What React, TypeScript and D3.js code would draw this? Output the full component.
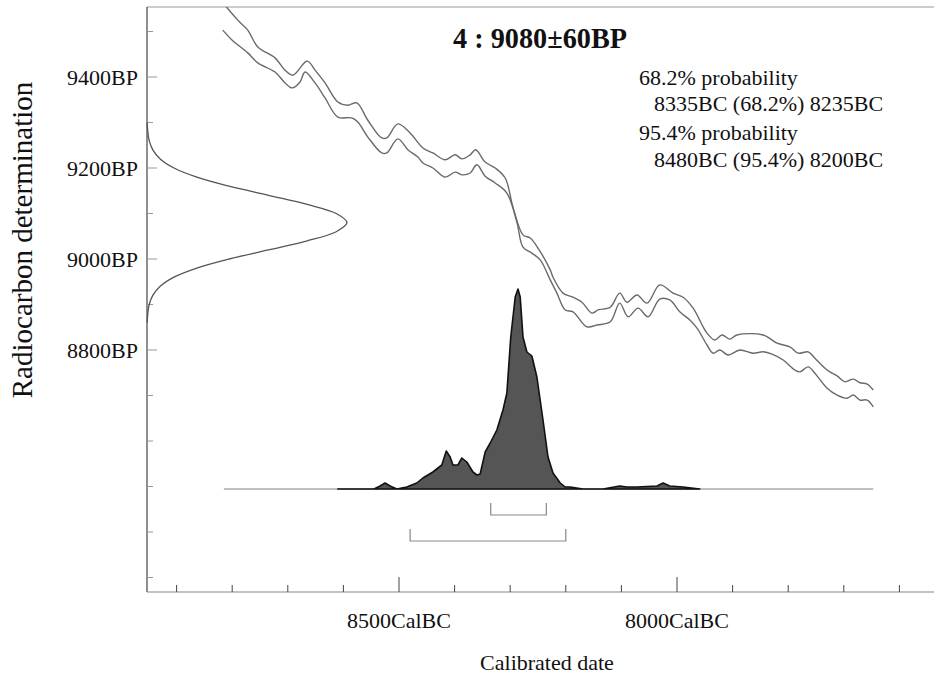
import React, { useEffect, useRef } from 'react';
import * as d3 from 'd3';

const TITLE = '4 : 9080±60BP';
const INFO_LINES = ['68.2% probability', '8335BC (68.2%) 8235BC', '95.4% probability', '8480BC (95.4%) 8200BC'];

// calibration curve edges, [cal BC, BP]
const curveUpper: [number, number][] = [
  [8818, 9565], [8790, 9525], [8772, 9503], [8754, 9466], [8723, 9442], [8705, 9415], [8691, 9404],
  [8665, 9435], [8651, 9415], [8633, 9387], [8610, 9345], [8592, 9338], [8576, 9343], [8556, 9305],
  [8531, 9266], [8522, 9266], [8502, 9297], [8480, 9277], [8457, 9244], [8439, 9233], [8417, 9218],
  [8399, 9229], [8387, 9220], [8372, 9229], [8362, 9240], [8345, 9213], [8327, 9200], [8309, 9178],
  [8295, 9114], [8277, 9053], [8264, 9046], [8250, 9024], [8228, 8976], [8223, 8960], [8205, 8925],
  [8187, 8916], [8171, 8905], [8153, 8881], [8142, 8888], [8120, 8894], [8103, 8925], [8090, 8905],
  [8072, 8921], [8054, 8903], [8031, 8943], [8007, 8925], [7989, 8916], [7971, 8892], [7953, 8851],
  [7946, 8837], [7932, 8822], [7919, 8833], [7905, 8824], [7892, 8833], [7845, 8833], [7820, 8815],
  [7797, 8807], [7782, 8793], [7764, 8796], [7752, 8782], [7730, 8756], [7712, 8743], [7698, 8730],
  [7683, 8736], [7671, 8728], [7658, 8725], [7647, 8712],
];
const curveLower: [number, number][] = [
  [8817, 9503], [8800, 9481], [8772, 9453], [8754, 9431], [8723, 9411], [8705, 9387], [8692, 9376],
  [8678, 9389], [8669, 9411], [8651, 9387], [8633, 9354], [8610, 9312], [8585, 9310], [8574, 9301],
  [8556, 9268], [8531, 9233], [8522, 9233], [8502, 9264], [8484, 9240], [8466, 9224], [8457, 9211],
  [8439, 9200], [8417, 9180], [8399, 9191], [8387, 9185], [8372, 9189], [8360, 9207], [8345, 9182],
  [8327, 9167], [8306, 9145], [8288, 9081], [8277, 9026], [8261, 9013], [8246, 8998], [8228, 8954],
  [8216, 8925], [8201, 8888], [8187, 8884], [8162, 8851], [8144, 8855], [8120, 8862], [8103, 8903],
  [8088, 8873], [8070, 8892], [8052, 8873], [8031, 8912], [8013, 8910], [7995, 8884], [7977, 8866],
  [7964, 8848], [7946, 8811], [7935, 8793], [7923, 8800], [7908, 8789], [7887, 8800], [7863, 8793],
  [7845, 8796], [7829, 8791], [7809, 8778], [7788, 8756], [7779, 8752], [7764, 8763], [7752, 8749],
  [7730, 8716], [7712, 8701], [7694, 8694], [7683, 8701], [7671, 8690], [7658, 8690], [7647, 8675],
];

// calibrated probability, [cal BC, relative probability]
const calProb: [number, number][] = [
  [8610, 0], [8545, 0], [8534, 0.015], [8525, 0.03], [8516, 0.015], [8504, 0], [8486, 0.01],
  [8468, 0.03], [8457, 0.055], [8439, 0.085], [8423, 0.12], [8415, 0.19], [8408, 0.16], [8403, 0.12],
  [8394, 0.12], [8387, 0.155], [8378, 0.135], [8367, 0.085], [8360, 0.07], [8354, 0.075], [8345, 0.185],
  [8336, 0.23], [8324, 0.295], [8313, 0.395], [8306, 0.48], [8299, 0.76], [8291, 0.96], [8286, 1.0],
  [8282, 0.96], [8277, 0.76], [8270, 0.685], [8261, 0.665], [8252, 0.56], [8241, 0.345], [8232, 0.16],
  [8223, 0.08], [8210, 0.03], [8201, 0.01], [8192, 0.01], [8169, 0], [8133, 0], [8103, 0.015],
  [8090, 0.01], [8072, 0.01], [8036, 0.015], [8025, 0.03], [8013, 0.015], [7989, 0.01], [7959, 0],
];

// radiocarbon measurement on the y axis, [BP, relative density]
const c14Dist: [number, number][] = [
  [9300, 0.001], [9280, 0.004], [9260, 0.011], [9240, 0.029], [9220, 0.066], [9200, 0.135],
  [9180, 0.249], [9160, 0.411], [9140, 0.607], [9120, 0.801], [9100, 0.946], [9080, 1.0],
  [9060, 0.946], [9040, 0.801], [9020, 0.607], [9000, 0.411], [8980, 0.249], [8960, 0.135],
  [8940, 0.066], [8920, 0.029], [8900, 0.011], [8880, 0.004], [8860, 0.001],
];

const ranges = [
  { level: '68.2%', from: 8335, to: 8235 },
  { level: '95.4%', from: 8480, to: 8200 },
];

const xTicks = [8900, 8800, 8700, 8600, 8500, 8400, 8300, 8200, 8100, 8000, 7900, 7800, 7700, 7600];
const xLabels = [8500, 8000];
const yTicks = [9500, 9400, 9300, 9200, 9100, 9000, 8900, 8800, 8700, 8600, 8500, 8400, 8300];
const yLabels = [9400, 9200, 9000, 8800];

const FONT = '"Liberation Serif", "DejaVu Serif", serif';

export default function App() {
  const svgRef = useRef<SVGSVGElement | null>(null);

  useEffect(() => {
    if (!svgRef.current) return;
    const width = 934;
    const height = 679;
    const plot = { left: 147, top: 7, right: 934, bottom: 592 };

    const svg = d3.select(svgRef.current);
    svg.selectAll('*').remove();
    svg.attr('width', width).attr('height', height);

    const x = d3.scaleLinear().domain([8500, 8000]).range([399, 677]);
    const y = d3.scaleLinear().domain([9400, 8800]).range([77, 350]);
    const probY = d3.scaleLinear().domain([0, 1]).range([489, 289]);
    const densX = d3.scaleLinear().domain([0, 1]).range([plot.left, 347]);

    svg.append('defs').append('clipPath').attr('id', 'plotClip')
      .append('rect')
      .attr('x', plot.left).attr('y', plot.top)
      .attr('width', plot.right - plot.left).attr('height', plot.bottom - plot.top);

    // frame
    svg.append('line')
      .attr('x1', plot.left).attr('x2', plot.right).attr('y1', plot.top).attr('y2', plot.top)
      .attr('stroke', '#999').attr('stroke-width', 1.2);
    svg.append('line')
      .attr('x1', plot.left).attr('x2', plot.left).attr('y1', plot.top).attr('y2', plot.bottom)
      .attr('stroke', '#444').attr('stroke-width', 1.2);
    svg.append('line')
      .attr('x1', plot.left).attr('x2', plot.right).attr('y1', plot.bottom).attr('y2', plot.bottom)
      .attr('stroke', '#888').attr('stroke-width', 1.2);

    // x ticks
    xTicks.forEach(t => {
      const major = xLabels.includes(t);
      svg.append('line')
        .attr('x1', x(t)).attr('x2', x(t))
        .attr('y1', plot.bottom).attr('y2', plot.bottom - (major ? 15 : 7))
        .attr('stroke', '#444').attr('stroke-width', 1);
    });
    xLabels.forEach(t => {
      svg.append('text')
        .attr('x', x(t)).attr('y', 628)
        .attr('text-anchor', 'middle')
        .style('font-family', FONT).style('font-size', '22px').attr('fill', '#111')
        .text(`${t}CalBC`);
    });

    // y ticks
    yTicks.forEach(t => {
      const major = yLabels.includes(t);
      svg.append('line')
        .attr('x1', plot.left).attr('x2', plot.left + (major ? 10 : 6))
        .attr('y1', y(t)).attr('y2', y(t))
        .attr('stroke', '#999').attr('stroke-width', 1);
    });
    yLabels.forEach(t => {
      svg.append('text')
        .attr('x', 138).attr('y', y(t) + 8)
        .attr('text-anchor', 'end')
        .style('font-family', FONT).style('font-size', '22px').attr('fill', '#111')
        .text(`${t}BP`);
    });

    // axis titles
    svg.append('text')
      .attr('transform', 'translate(32,240) rotate(-90)')
      .attr('text-anchor', 'middle')
      .style('font-family', FONT).style('font-size', '29px').attr('fill', '#111')
      .text('Radiocarbon determination');
    svg.append('text')
      .attr('x', 547).attr('y', 670)
      .attr('text-anchor', 'middle')
      .style('font-family', FONT).style('font-size', '22px').attr('fill', '#111')
      .text('Calibrated date');

    // radiocarbon measurement
    const densLine = d3.line<[number, number]>()
      .x(d => densX(d[1])).y(d => y(d[0]))
      .curve(d3.curveCatmullRom);
    svg.append('path')
      .datum(c14Dist)
      .attr('fill', 'none').attr('stroke', '#555').attr('stroke-width', 1.3)
      .attr('d', densLine);

    // calibration curve
    const calLine = d3.line<[number, number]>()
      .x(d => x(d[0])).y(d => y(d[1]))
      .curve(d3.curveCatmullRom);
    const cg = svg.append('g').attr('clip-path', 'url(#plotClip)');
    [curveUpper, curveLower].forEach(c => {
      cg.append('path')
        .datum(c)
        .attr('fill', 'none').attr('stroke', '#6a6a6a').attr('stroke-width', 1.4)
        .attr('d', calLine);
    });

    // baseline of calibrated distribution
    svg.append('line')
      .attr('x1', x(8815)).attr('x2', x(7647))
      .attr('y1', probY(0)).attr('y2', probY(0))
      .attr('stroke', '#aaa').attr('stroke-width', 1.4);

    // calibrated distribution
    const area = d3.area<[number, number]>()
      .x(d => x(d[0])).y0(probY(0)).y1(d => probY(d[1]));
    svg.append('path')
      .datum(calProb)
      .attr('fill', '#555').attr('stroke', '#111').attr('stroke-width', 1.6)
      .attr('stroke-linejoin', 'round')
      .attr('d', area);

    // ranges
    const rangeY = [515, 541];
    ranges.forEach((r, i) => {
      const yy = rangeY[i];
      svg.append('path')
        .attr('d', `M${x(r.from)},${yy - 12}V${yy}H${x(r.to)}V${yy - 12}`)
        .attr('fill', 'none').attr('stroke', '#888').attr('stroke-width', 1.2);
    });

    // title and info
    svg.append('text')
      .attr('x', 453).attr('y', 48)
      .style('font-family', FONT).style('font-size', '29px').style('font-weight', 'bold')
      .attr('fill', '#111').attr('textLength', 174).attr('lengthAdjust', 'spacingAndGlyphs')
      .text(TITLE);

    const infoY = [85, 111, 140, 167];
    INFO_LINES.forEach((t, i) => {
      svg.append('text')
        .attr('x', i % 2 === 0 ? 639 : 654).attr('y', infoY[i])
        .style('font-family', FONT).style('font-size', '22px')
        .attr('fill', '#111')
        .text(t);
    });
  }, []);

  return (
    <div style={{ position: 'absolute', left: 0, top: 0, background: '#fff' }}>
      <svg ref={svgRef} style={{ display: 'block' }} />
    </div>
  );
}
